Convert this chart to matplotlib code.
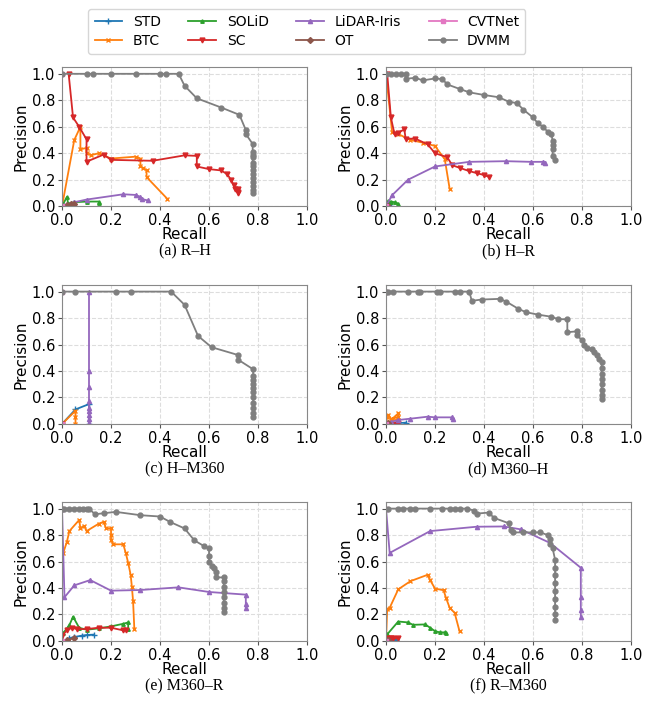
import matplotlib.pyplot as plt

methods = ["STD", "BTC", "SOLiD", "SC", "LiDAR-Iris", "OT", "CVTNet", "DVMM"]
colors = ["tab:blue", "tab:orange", "tab:green", "tab:red", "tab:purple", "tab:brown", "tab:pink", "tab:gray"]
markers = ["+", "x", "^", "v", "^", "D", "s", "o"]
msizes = [4, 3.5, 2.5, 3.5, 3, 3, 3.5, 3.5]

captions = ["(a) R–H", "(b) H–R", "(c) H–M360", "(d) M360–H", "(e) M360–R", "(f) R–M360"]

# (recall, precision) per method, one dict per panel
RH = {
    "STD": ([0.0, 0.01, 0.02], [0.0, 0.005, 0.01]),
    "BTC": ([0.0, 0.05, 0.075, 0.075, 0.1, 0.1, 0.12, 0.15, 0.2, 0.3, 0.32, 0.32, 0.33, 0.345, 0.345, 0.43],
            [0.0, 0.5, 0.6, 0.43, 0.44, 0.4, 0.386, 0.4, 0.36, 0.374, 0.36, 0.3, 0.29, 0.27, 0.22, 0.055]),
    "SOLiD": ([0.0, 0.02, 0.025, 0.05, 0.1, 0.15, 0.15], [0.0, 0.07, 0.02, 0.03, 0.035, 0.035, 0.025]),
    "SC": ([0.027, 0.045, 0.07, 0.1, 0.1, 0.17, 0.2, 0.37, 0.5, 0.55, 0.55, 0.6, 0.65, 0.675, 0.69, 0.7,
            0.705, 0.72, 0.72, 0.72],
           [1.0, 0.67, 0.6, 0.505, 0.336, 0.39, 0.35, 0.343, 0.384, 0.38, 0.3, 0.28, 0.27, 0.24, 0.197, 0.16,
            0.13, 0.13, 0.11, 0.096]),
    "LiDAR-Iris": ([0.0, 0.05, 0.1, 0.25, 0.3, 0.32, 0.325, 0.35], [0.0, 0.03, 0.05, 0.09, 0.085, 0.07, 0.055, 0.043]),
    "OT": ([0.0, 0.02, 0.035, 0.05], [0.0, 0.01, 0.015, 0.02]),
    "CVTNet": ([0.0, 0.0], [0.0, 1.0]),
    "DVMM": ([0.0, 0.1, 0.127, 0.2, 0.3, 0.4, 0.425, 0.476, 0.5, 0.55, 0.65, 0.724, 0.75, 0.75, 0.778,
              0.778, 0.778, 0.778, 0.778, 0.778, 0.778, 0.778, 0.778, 0.778, 0.778, 0.778, 0.778],
             [1.0, 1.0, 1.0, 1.0, 1.0, 1.0, 1.0, 1.0, 0.91, 0.815, 0.745, 0.69, 0.575, 0.545, 0.47,
              0.41, 0.39, 0.37, 0.33, 0.3, 0.27, 0.24, 0.21, 0.18, 0.15, 0.12, 0.1]),
}
HR = {
    "STD": ([0.0, 0.01, 0.02], [0.0, 0.01, 0.005]),
    "BTC": ([0.0, 0.025, 0.05, 0.1, 0.15, 0.2, 0.24, 0.26], [1.0, 0.56, 0.545, 0.5, 0.48, 0.455, 0.354, 0.129]),
    "SOLiD": ([0.01, 0.02, 0.035, 0.05], [0.04, 0.035, 0.03, 0.02]),
    "SC": ([0.005, 0.02, 0.035, 0.05, 0.075, 0.08, 0.12, 0.17, 0.2, 0.25, 0.27, 0.3, 0.34, 0.37, 0.4, 0.42],
           [1.0, 0.67, 0.543, 0.556, 0.58, 0.51, 0.51, 0.467, 0.4, 0.37, 0.31, 0.29, 0.265, 0.25, 0.235, 0.222]),
    "LiDAR-Iris": ([0.0, 0.025, 0.09, 0.2, 0.34, 0.49, 0.59, 0.64, 0.65], [0.0, 0.083, 0.2, 0.3, 0.335, 0.34, 0.335, 0.335, 0.33]),
    "OT": ([0.0, 0.01], [0.0, 0.005]),
    "CVTNet": ([0.0, 0.0], [0.0, 1.0]),
    "DVMM": ([0.0, 0.02, 0.04, 0.06, 0.081, 0.08, 0.12, 0.15, 0.2, 0.23, 0.25, 0.3, 0.34, 0.4, 0.46, 0.5,
              0.535, 0.56, 0.6, 0.62, 0.64, 0.66, 0.675, 0.68, 0.68, 0.68, 0.68, 0.69],
             [1.0, 1.0, 1.0, 1.0, 1.0, 0.962, 0.97, 0.95, 0.965, 0.96, 0.92, 0.886, 0.86, 0.84, 0.823, 0.79,
              0.778, 0.73, 0.67, 0.626, 0.6, 0.563, 0.545, 0.495, 0.46, 0.43, 0.38, 0.35]),
}
HM = {
    "STD": ([0.0, 0.055, 0.11, 0.11], [0.0, 0.11, 0.15, 0.0]),
    "BTC": ([0.0, 0.055, 0.055, 0.055], [0.0, 0.1, 0.05, 0.0]),
    "SOLiD": ([0.0], [0.0]),
    "SC": ([0.0], [0.0]),
    "LiDAR-Iris": ([0.11, 0.11, 0.11, 0.11, 0.11, 0.11, 0.11, 0.11, 0.11],
                   [1.0, 0.4, 0.28, 0.17, 0.12, 0.1, 0.07, 0.04, 0.01]),
    "OT": ([0.0], [0.0]),
    "CVTNet": ([0.0, 0.0], [0.0, 1.0]),
    "DVMM": ([0.0, 0.055, 0.22, 0.28, 0.445, 0.5, 0.555, 0.61, 0.72, 0.72, 0.78, 0.78, 0.78, 0.78, 0.78,
              0.78, 0.78, 0.78, 0.78, 0.78, 0.78],
             [1.0, 1.0, 1.0, 1.0, 1.0, 0.9, 0.665, 0.58, 0.52, 0.484, 0.413, 0.36, 0.33, 0.3, 0.27, 0.24,
              0.2, 0.16, 0.12, 0.08, 0.05]),
}
MH = {
    "STD": ([0.0, 0.04, 0.08], [0.0, 0.005, 0.01]),
    "BTC": ([0.0, 0.005, 0.01, 0.02, 0.05, 0.05, 0.02, 0.05], [0.0, 0.05, 0.07, 0.04, 0.05, 0.08, 0.03, 0.03]),
    "SOLiD": ([0.0, 0.02], [0.0, 0.005]),
    "SC": ([0.0, 0.05], [0.0, 0.01]),
    "LiDAR-Iris": ([0.0, 0.02, 0.05, 0.1, 0.17, 0.2, 0.27, 0.275], [0.0, 0.015, 0.03, 0.04, 0.055, 0.05, 0.05, 0.04]),
    "OT": ([0.0, 0.01], [0.0, 0.005]),
    "CVTNet": ([0.0, 0.0], [0.0, 1.0]),
    "DVMM": ([0.0, 0.01, 0.03, 0.09, 0.13, 0.14, 0.21, 0.22, 0.28, 0.3, 0.34, 0.35, 0.39, 0.465, 0.49, 0.54,
              0.57, 0.62, 0.675, 0.7, 0.74, 0.74, 0.78, 0.78, 0.8, 0.81, 0.82, 0.84, 0.85, 0.86, 0.87, 0.88,
              0.88, 0.88, 0.88, 0.88, 0.88, 0.88, 0.88],
             [1.0, 1.0, 1.0, 1.0, 1.0, 1.0, 1.0, 1.0, 1.0, 1.0, 1.0, 0.93, 0.94, 0.945, 0.925, 0.87,
              0.845, 0.826, 0.81, 0.793, 0.79, 0.693, 0.7, 0.67, 0.632, 0.6, 0.577, 0.564, 0.545, 0.52, 0.49, 0.466,
              0.42, 0.38, 0.34, 0.3, 0.26, 0.22, 0.19]),
}
MR = {
    "STD": ([0.03, 0.05, 0.08, 0.1, 0.13], [0.02, 0.03, 0.04, 0.045, 0.048]),
    "BTC": ([0.005, 0.02, 0.03, 0.07, 0.075, 0.09, 0.1, 0.15, 0.17, 0.18, 0.2, 0.2, 0.2, 0.21, 0.25, 0.26,
             0.27, 0.28, 0.285, 0.29, 0.295],
            [0.665, 0.75, 0.83, 0.914, 0.85, 0.87, 0.83, 0.886, 0.9, 0.85, 0.85, 0.8, 0.76, 0.73, 0.73, 0.665,
             0.59, 0.5, 0.41, 0.3, 0.094]),
    "SOLiD": ([0.005, 0.03, 0.045, 0.07, 0.1, 0.15, 0.2, 0.25, 0.27, 0.27], [0.06, 0.12, 0.183, 0.1, 0.085, 0.095, 0.11, 0.13, 0.14, 0.09]),
    "SC": ([0.0, 0.02, 0.04, 0.06, 0.1, 0.15, 0.2, 0.25, 0.26], [0.04, 0.08, 0.1, 0.09, 0.09, 0.1, 0.1, 0.08, 0.085]),
    "LiDAR-Iris": ([0.0, 0.01, 0.05, 0.115, 0.2, 0.32, 0.475, 0.6, 0.75, 0.75, 0.75],
                   [1.0, 0.33, 0.42, 0.46, 0.38, 0.385, 0.405, 0.37, 0.35, 0.28, 0.246]),
    "OT": ([0.0, 0.02, 0.05], [0.0, 0.01, 0.02]),
    "CVTNet": ([0.0, 0.0], [0.0, 1.0]),
    "DVMM": ([0.0, 0.01, 0.03, 0.05, 0.07, 0.085, 0.1, 0.109, 0.135, 0.17, 0.22, 0.32, 0.4, 0.44, 0.5, 0.54,
              0.58, 0.6, 0.6, 0.6, 0.61, 0.62, 0.63, 0.63, 0.66, 0.66, 0.66, 0.66, 0.66, 0.66, 0.66, 0.66],
             [1.0, 1.0, 1.0, 1.0, 1.0, 1.0, 1.0, 1.0, 0.957, 0.965, 0.975, 0.95, 0.94, 0.9, 0.85, 0.76,
              0.716, 0.7, 0.64, 0.6, 0.57, 0.55, 0.52, 0.48, 0.48, 0.45, 0.41, 0.37, 0.33, 0.29, 0.25, 0.218]),
}
RM = {
    "STD": ([0.0, 0.02, 0.04], [0.0, 0.005, 0.01]),
    "BTC": ([0.0, 0.005, 0.015, 0.05, 0.1, 0.17, 0.18, 0.2, 0.235, 0.245, 0.26, 0.28, 0.3],
            [0.0, 0.244, 0.25, 0.39, 0.452, 0.5, 0.46, 0.396, 0.383, 0.325, 0.25, 0.213, 0.074]),
    "SOLiD": ([0.0, 0.005, 0.05, 0.09, 0.11, 0.16, 0.18, 0.2, 0.22, 0.24, 0.245],
              [0.02, 0.05, 0.147, 0.14, 0.122, 0.125, 0.1, 0.074, 0.065, 0.065, 0.06]),
    "SC": ([0.005, 0.01, 0.02, 0.03, 0.05], [0.01, 0.02, 0.025, 0.02, 0.02]),
    "LiDAR-Iris": ([0.0, 0.015, 0.18, 0.37, 0.48, 0.55, 0.67, 0.795, 0.795, 0.795, 0.795],
                   [1.0, 0.665, 0.83, 0.863, 0.865, 0.843, 0.74, 0.553, 0.335, 0.231, 0.178]),
    "OT": ([0.0, 0.01], [0.0, 0.005]),
    "CVTNet": ([0.0, 0.0], [0.0, 1.0]),
    "DVMM": ([0.01, 0.05, 0.07, 0.1, 0.12, 0.18, 0.23, 0.26, 0.28, 0.3, 0.33, 0.36, 0.37, 0.42, 0.44, 0.5,
              0.51, 0.52, 0.56, 0.6, 0.63, 0.66, 0.67, 0.67, 0.68, 0.69, 0.69, 0.69, 0.69, 0.69, 0.69, 0.69,
              0.69, 0.69],
             [1.0, 1.0, 1.0, 1.0, 1.0, 1.0, 1.0, 1.0, 1.0, 1.0, 1.0, 0.985, 0.962, 0.97, 0.93, 0.89,
              0.835, 0.82, 0.82, 0.82, 0.82, 0.8, 0.77, 0.73, 0.7, 0.614, 0.55, 0.5, 0.44, 0.38, 0.32, 0.26,
              0.2, 0.157]),
}
panels = [RH, HR, HM, MH, MR, RM]

fig = plt.figure(figsize=(6.57, 7.11), dpi=100)

lefts = [0.0944, 0.5875]
bottoms = [0.710, 0.4037, 0.0985]
cap_y = [0.647, 0.340, 0.035]

handles = []
for i, data in enumerate(panels):
    row, col = divmod(i, 2)
    ax = fig.add_axes([lefts[col], bottoms[row], 0.373, 0.1955])
    for j, m in enumerate(methods):
        r, p = data[m]
        h, = ax.plot(r, p, color=colors[j], marker=markers[j], markersize=msizes[j], linewidth=1.3, label=m)
        if i == 0:
            handles.append(h)
    ax.set_xlim(0, 1.0)
    ax.set_ylim(0, 1.05)
    ax.set_xticks([0, 0.2, 0.4, 0.6, 0.8, 1.0])
    ax.set_yticks([0, 0.2, 0.4, 0.6, 0.8, 1.0])
    ax.grid(True, linestyle="--", color="#dddddd", linewidth=0.8)
    ax.set_axisbelow(True)
    ax.tick_params(labelsize=10.5, color="#555555", length=3, pad=2)
    for s in ax.spines.values():
        s.set_color("#888888")
    ax.set_xlabel("Recall", fontsize=11, labelpad=-1)
    ax.set_ylabel("Precision", fontsize=11, labelpad=2)
    fig.text(lefts[col] + 0.373 / 2, cap_y[row], captions[i], ha="center", va="center",
             fontsize=11.5, family="Liberation Serif")

fig.legend(handles=handles, loc="center", bbox_to_anchor=(0.467, 0.9557), ncol=4,
           fontsize=10, frameon=True, handlelength=2.0, columnspacing=2.0, labelspacing=0.35,
           borderpad=0.45, handletextpad=0.75)

fig.savefig("out.png", dpi=100)
